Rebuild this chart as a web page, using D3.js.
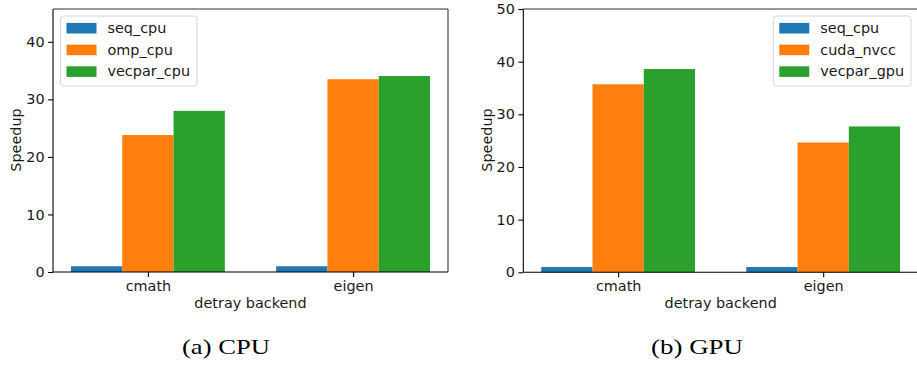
<!DOCTYPE html>
<html>
<head>
<meta charset="utf-8">
<script src="https://cdn.jsdelivr.net/npm/d3@7"></script>
<style>
  html, body { margin: 0; padding: 0; background: #fff; }
  svg { display: block; }
</style>
</head>
<body>
<svg id="chart" width="917" height="365" font-family="DejaVu Sans, sans-serif"></svg>
<script>
// ---- data ----
const categories = ["cmath", "eigen"];

const cpuSeries = ["seq_cpu", "omp_cpu", "vecpar_cpu"];
const cpuSeq = [1.0, 1.0];
const cpuOmp = [23.8, 33.5];
const cpuVecpar = [28.0, 34.05];
const cpuYTicks = [0, 10, 20, 30, 40];

const gpuSeries = ["seq_cpu", "cuda_nvcc", "vecpar_gpu"];
const gpuSeq = [1.0, 1.0];
const gpuCuda = [35.7, 24.65];
const gpuVecpar = [38.6, 27.7];
const gpuYTicks = [0, 10, 20, 30, 40, 50];

const colors = ["#1f77b4", "#ff7f0e", "#2ca02c"];
const captions = ["(a) CPU", "(b) GPU"];

// ---- drawing ----
const svg = d3.select("#chart");
const SANS = "DejaVu Sans, sans-serif";

function drawPanel(opt) {
  const g = svg.append("g");
  const x = d3.scaleLinear().domain([-0.4625, 1.4625]).range([opt.left, opt.right]);
  const y = d3.scaleLinear().domain([0, opt.ymax]).range([opt.bottom, opt.top]);
  const barW = 0.25;
  const offsets = [-0.25, 0, 0.25];

  // bars
  opt.values.forEach((vals, si) => {
    g.append("g").selectAll("rect").data(vals).join("rect")
      .attr("x", (d, i) => x(i + offsets[si] - barW / 2))
      .attr("width", x(barW) - x(0))
      .attr("y", d => y(d))
      .attr("height", d => y(0) - y(d))
      .attr("fill", colors[si]);
  });

  // axes
  const yAxis = d3.axisLeft(y).tickValues(opt.yticks).tickSize(4.9).tickPadding(3.5).tickFormat(d3.format("d"));
  const gy = g.append("g").attr("transform", `translate(${opt.left},0)`).call(yAxis);
  const xAxis = d3.axisBottom(x).tickValues([0, 1]).tickSize(4.9).tickPadding(3.5).tickFormat(i => categories[i]);
  const gx = g.append("g").attr("transform", `translate(0,${opt.bottom})`).call(xAxis);
  [gx, gy].forEach(a => {
    a.attr("font-family", SANS).attr("font-size", 14.4);
    a.select(".domain").remove();
    a.selectAll("line").attr("stroke", "#000").attr("stroke-width", 1.1);
    a.selectAll("text").attr("fill", "#1a1a1a");
  });

  // spines
  const sp = g.append("g").attr("stroke", "#333").attr("stroke-width", 1.1).attr("fill", "none");
  sp.append("line").attr("x1", opt.left).attr("x2", opt.left).attr("y1", opt.top).attr("y2", opt.bottom).attr("stroke", "#000");
  sp.append("line").attr("x1", opt.left).attr("x2", opt.right).attr("y1", opt.bottom).attr("y2", opt.bottom).attr("stroke", "#000");
  sp.append("line").attr("x1", opt.left).attr("x2", opt.right).attr("y1", opt.top).attr("y2", opt.top);
  sp.append("line").attr("x1", opt.right).attr("x2", opt.right).attr("y1", opt.top).attr("y2", opt.bottom);

  // labels
  g.append("text").attr("x", (opt.left + opt.right) / 2).attr("y", 307.5)
    .attr("text-anchor", "middle").attr("font-family", SANS).attr("font-size", 14.4).attr("fill", "#1a1a1a").text("detray backend");
  g.append("text").attr("transform", `translate(${opt.ylabelX},140) rotate(-90)`)
    .attr("text-anchor", "middle").attr("font-family", SANS).attr("font-size", 14.4).attr("fill", "#1a1a1a").text("Speedup");

  // legend
  const lg = g.append("g");
  lg.append("rect").attr("x", opt.legX).attr("y", 16).attr("width", opt.legW).attr("height", 70)
    .attr("rx", 3).attr("fill", "#fff").attr("fill-opacity", 0.8).attr("stroke", "#d5d5d5").attr("stroke-width", 1);
  const rows = lg.selectAll("g.row").data(opt.series).join("g").attr("class", "row")
    .attr("transform", (d, i) => `translate(${opt.legX + 6},${28.2 + i * 21.7})`);
  rows.append("rect").attr("x", 0).attr("y", -5.3).attr("width", 30).attr("height", 10.6)
    .attr("fill", (d, i) => colors[i]);
  rows.append("text").attr("x", 41).attr("y", 0).attr("dy", "0.33em")
    .attr("font-family", SANS).attr("font-size", 14.4).attr("fill", "#1a1a1a").text(d => d);

  // caption
  g.append("text").attr("x", opt.capX).attr("y", 353.5).attr("text-anchor", "middle")
    .attr("font-family", "Liberation Serif, DejaVu Serif, serif").attr("font-size", 22).attr("fill", "#000")
    .attr("textLength", opt.capW).attr("lengthAdjust", "spacingAndGlyphs")
    .text(opt.caption);
}

drawPanel({
  left: 53, right: 448, top: 9, bottom: 272, ymax: 45.7,
  values: [cpuSeq, cpuOmp, cpuVecpar], yticks: cpuYTicks, series: cpuSeries,
  ylabelX: 21, legX: 60.5, legW: 136.5, capX: 226, capW: 88, caption: captions[0]
});
drawPanel({
  left: 523.3, right: 918, top: 9, bottom: 272.3, ymax: 50,
  values: [gpuSeq, gpuCuda, gpuVecpar], yticks: gpuYTicks, series: gpuSeries,
  ylabelX: 492, legX: 773.3, legW: 137.7, capX: 697, capW: 92, caption: captions[1]
});
</script>
</body>
</html>
